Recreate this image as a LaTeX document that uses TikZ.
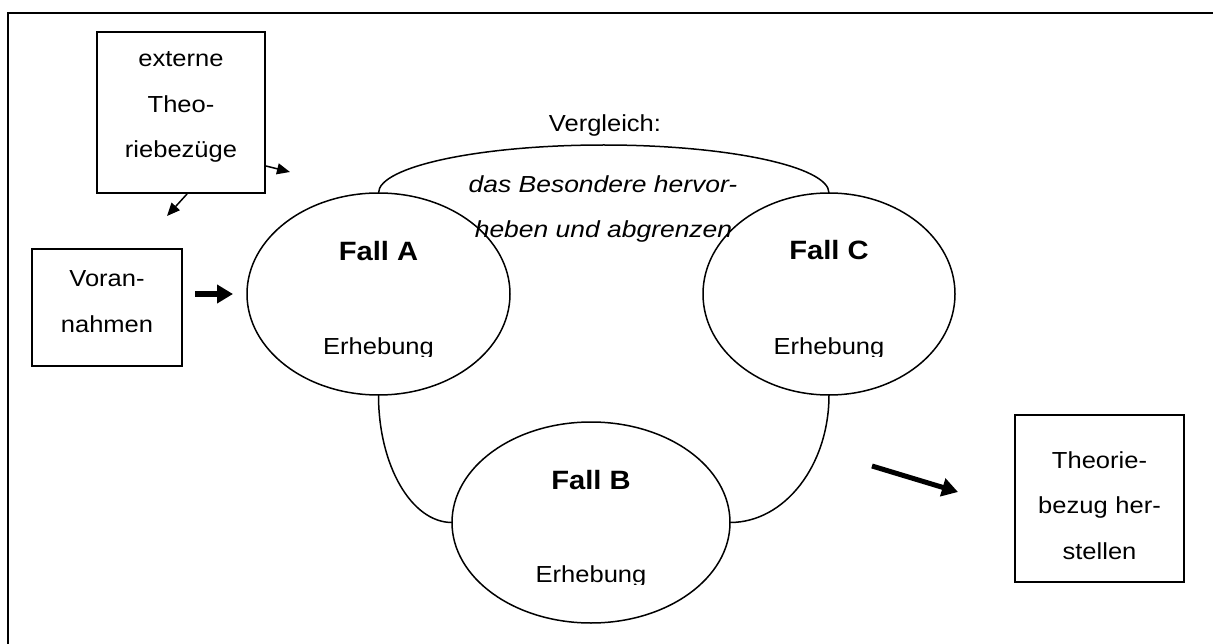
\documentclass[tikz,border=0pt]{standalone}
\usepackage{fontspec}
\setmainfont{Liberation Sans}[FakeStretch=1.10]
\newfontfamily\vitfont{Liberation Sans}[FakeStretch=1.14]
\usetikzlibrary{arrows.meta,calc,shapes.geometric}
\begin{document}
\begin{tikzpicture}[x=1pt,y=-1pt,
  txt/.style={font=\fontsize{23.2}{45.5}\selectfont},
  itxt/.style={font=\vitfont\fontsize{23.2}{45.5}\selectfont\itshape},
  box/.style={draw, line width=1.5pt, inner sep=0pt, outer sep=0pt, align=center, txt, anchor=north west},
  fall/.style={draw, ellipse, line width=1.5pt, inner sep=0pt, outer sep=0pt},
  ftitle/.style={anchor=base, font=\fontsize{26.5}{30}\selectfont\bfseries},
  fsub/.style={anchor=base, txt},
  link/.style={line width=1.5pt},
  thinarrow/.style={line width=1.5pt, -{Triangle[length=13pt,width=11pt]}},
  thickarrow/.style={line width=5.5pt, -{Triangle[length=16pt,width=18pt]}}
]
\useasboundingbox (0,0) rectangle (1213,644);
% frame
\draw[line width=2.5pt] (8,644) -- (8,13) -- (1213,13);

% boxes
\node[box, text width=168pt, text height=35pt, text depth=126pt] (E) at (97,32) {externe\\Theo-\\riebezüge};
\node[box, text width=150pt, text height=38pt, text depth=79pt] (V) at (32,249) {Voran-\\nahmen};
\node[box, text width=169pt, text height=53pt, text depth=114pt] (T) at (1015,415) {Theorie-\\bezug her-\\stellen};

% cases
\node[fall, minimum width=263pt, minimum height=202pt] (A) at (378.5,294) {};
\node[fall, minimum width=252pt, minimum height=202pt] (C) at (829,294) {};
\node[fall, minimum width=278pt, minimum height=201pt] (B) at (591,522.5) {};

\node[ftitle] (At) at ($(A.center)+(0,-33)$) {Fall A};
\node[ftitle] (Ct) at ($(C.center)+(0,-34)$) {Fall C};
\node[ftitle] (Bt) at ($(B.center)+(0,-33.5)$) {Fall B};

\begin{scope}
  \clip ($(A.center)+(-100,0)$) rectangle ($(A.center)+(100,62.5)$);
  \node[fsub] (Ae) at ($(A.center)+(0,60)$) {Erhebung};
\end{scope}
\begin{scope}
  \clip ($(C.center)+(-100,0)$) rectangle ($(C.center)+(100,62.5)$);
  \node[fsub] (Ce) at ($(C.center)+(0,60)$) {Erhebung};
\end{scope}
\begin{scope}
  \clip ($(B.center)+(-100,0)$) rectangle ($(B.center)+(100,62)$);
  \node[fsub] (Be) at ($(B.center)+(0,59.5)$) {Erhebung};
\end{scope}

% comparison arc
\coordinate (peak) at (603.75,145);
\draw[link] (A.north) .. controls ($(A.north)+(0,-26.5)$) and ($(peak)+(-124,0)$) .. (peak)
            .. controls ($(peak)+(124,0)$) and ($(C.north)+(0,-26.5)$) .. (C.north);
\node[txt, anchor=base] (vg) at (605,132) {Vergleich:};
\node[itxt, anchor=base] (vt1) at (603,193) {das Besondere hervor-};
\node[itxt, anchor=base] (vt2) at (603.5,238) {heben und abgrenzen};

% lower links
\draw[link] (A.south) .. controls ($(A.south)+(0,70.4)$) and ($(B.west)+(-40.6,0)$) .. (B.west);
\draw[link] (C.south) .. controls ($(C.south)+(0,70.4)$) and ($(B.east)+(54.7,0)$) .. (B.east);

% arrows
\draw[thickarrow, shorten <=13pt, shorten >=14pt] (V.east |- A.west) -- (A.west);
\coordinate (e1) at (167,216);
\draw[thinarrow] ($(E.south)+(6,1)$) -- (e1);
\coordinate (e2) at (290,172);
\draw[thinarrow] ($(E.east)+(1,53.5)$) -- (e2);
\coordinate (r1) at (872,466);
\coordinate (r2) at (958,492);
\draw[thickarrow, line width=5pt] (r1) -- (r2);
\end{tikzpicture}
\end{document}
